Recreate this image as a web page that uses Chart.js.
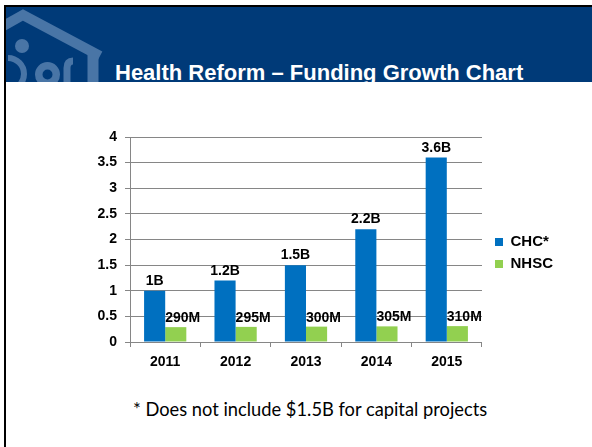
<!DOCTYPE html>
<html>
<head>
<meta charset="utf-8">
<script src="https://cdn.jsdelivr.net/npm/chart.js@4.4.0/dist/chart.umd.min.js"></script>
<style>
  html, body { margin: 0; padding: 0; background: #fff; }
  body { width: 592px; height: 447px; position: relative; overflow: hidden; font-family: 'Liberation Sans', Arial, sans-serif; }
  #frameTop { position: absolute; left: 4px; top: 5px; right: 0; height: 2px; background: #000; }
  #frameLeft { position: absolute; left: 4px; top: 5px; width: 2px; bottom: 0; background: #000; }
  #band { position: absolute; left: 6px; top: 7px; right: 0; height: 75px; background: #003a78; overflow: hidden; }
  #band svg { position: absolute; left: -6px; top: -7px; }
  #title { position: absolute; left: 109px; top: 55px; margin: 0; font: bold 22px/22px 'Liberation Sans', Arial, sans-serif; color: #fff; white-space: nowrap; }
  #chartBox { position: absolute; left: 90px; top: 120px; }
  #note { position: absolute; left: 133px; top: 399px; margin: 0; font: 18.3px/21px Lato, 'Open Sans', sans-serif; color: #000; white-space: nowrap; }
</style>
</head>
<body>
<div id="frameTop"></div>
<div id="frameLeft"></div>
<div id="band">
  <svg width="140" height="90" viewBox="0 0 140 90">
    <g fill="none" stroke="#4975a6">
      <polyline points="-4,30 23,15 100,56" stroke-width="10" stroke-linejoin="miter"/>
      <line x1="93" y1="55" x2="93" y2="90" stroke-width="11"/>
      <circle cx="47.5" cy="74.5" r="8.75" stroke-width="7.5"/>
      <path d="M8 58 A 12 12 0 0 1 8 90" stroke-width="6"/>
      <path d="M67 90 L67 68 Q67 61 73 61" stroke-width="7"/>
    </g>
    <circle cx="22" cy="46" r="7" fill="#4975a6"/>
  </svg>
  <h1 id="title">Health Reform – Funding Growth Chart</h1>
</div>
<div id="chartBox"><canvas id="chart" width="467" height="269"></canvas></div>
<p id="note">* Does not include $1.5B for capital projects</p>

<script>
  // 数据
  const YEARS = ['2011', '2012', '2013', '2014', '2015'];
  const CHC = [1, 1.2, 1.5, 2.2, 3.6];
  const NHSC = [0.29, 0.295, 0.30, 0.305, 0.31];
  const CHC_TEXT = ['1B', '1.2B', '1.5B', '2.2B', '3.6B'];
  const NHSC_TEXT = ['290M', '295M', '300M', '305M', '310M'];
  const Y_MIN = 0;
  const Y_MAX = 4;
  const Y_STEP = 0.5;

  const COLORS = {
    chc: '#0070c0',
    nhsc: '#92d050',
    grid: '#868686',
    ink: '#000',
  };
  const FONT = "'Liberation Sans', Arial, sans-serif";

  // bar value text, CHC centred, NHSC from the bar's left edge
  const barText = {
    id: 'barText',
    afterDatasetsDraw(chart) {
      const ctx = chart.ctx;
      const texts = [CHC_TEXT, NHSC_TEXT];
      ctx.save();
      ctx.font = 'bold 14px ' + FONT;
      ctx.fillStyle = COLORS.ink;
      ctx.textBaseline = 'alphabetic';
      chart.data.datasets.forEach((ds, di) => {
        chart.getDatasetMeta(di).data.forEach((bar, i) => {
          if (di === 0) {
            ctx.textAlign = 'center';
            ctx.fillText(texts[di][i], bar.x, bar.y - 6);
          } else {
            ctx.textAlign = 'left';
            ctx.fillText(texts[di][i], bar.x - bar.width / 2, bar.y - 5);
          }
        });
      });
      ctx.restore();
    },
  };

  // small gap between plot and legend
  const legendGap = {
    id: 'legendGap',
    afterLayout(chart) {
      chart.legend.left += 6;
      chart.legend.right += 6;
    },
  };

  new Chart(document.getElementById('chart'), {
    type: 'bar',
    data: {
      labels: YEARS,
      datasets: [
        { label: 'CHC*', data: CHC, backgroundColor: COLORS.chc, borderWidth: 0, categoryPercentage: 0.6, barPercentage: 1 },
        { label: 'NHSC', data: NHSC, backgroundColor: COLORS.nhsc, borderWidth: 0, categoryPercentage: 0.6, barPercentage: 1 },
      ],
    },
    options: {
      responsive: false,
      animation: false,
      layout: { padding: { top: 17, bottom: 20, left: 0, right: 0 } },
      plugins: {
        legend: {
          position: 'right',
          labels: {
            boxWidth: 8,
            boxHeight: 8,
            padding: 7,
            color: COLORS.ink,
            font: { family: FONT, size: 15, weight: 'bold' },
          },
        },
        tooltip: { enabled: false },
      },
      scales: {
        x: {
          afterFit: (s) => { s.height = 27; },
          grid: { offset: true, drawOnChartArea: false, drawTicks: true, tickLength: 5, color: COLORS.grid },
          border: { color: COLORS.grid },
          ticks: { color: COLORS.ink, padding: 7, font: { family: FONT, size: 14, weight: 'bold' } },
        },
        y: {
          min: Y_MIN,
          max: Y_MAX,
          afterFit: (s) => { s.width = 40; },
          grid: { color: COLORS.grid, tickLength: 5 },
          border: { color: COLORS.grid },
          ticks: {
            stepSize: Y_STEP,
            color: COLORS.ink,
            padding: 8,
            font: { family: FONT, size: 14, weight: 'bold' },
            callback: (v) => String(Math.round(v * 10) / 10),
          },
        },
      },
    },
    plugins: [barText, legendGap],
  });
</script>
</body>
</html>
